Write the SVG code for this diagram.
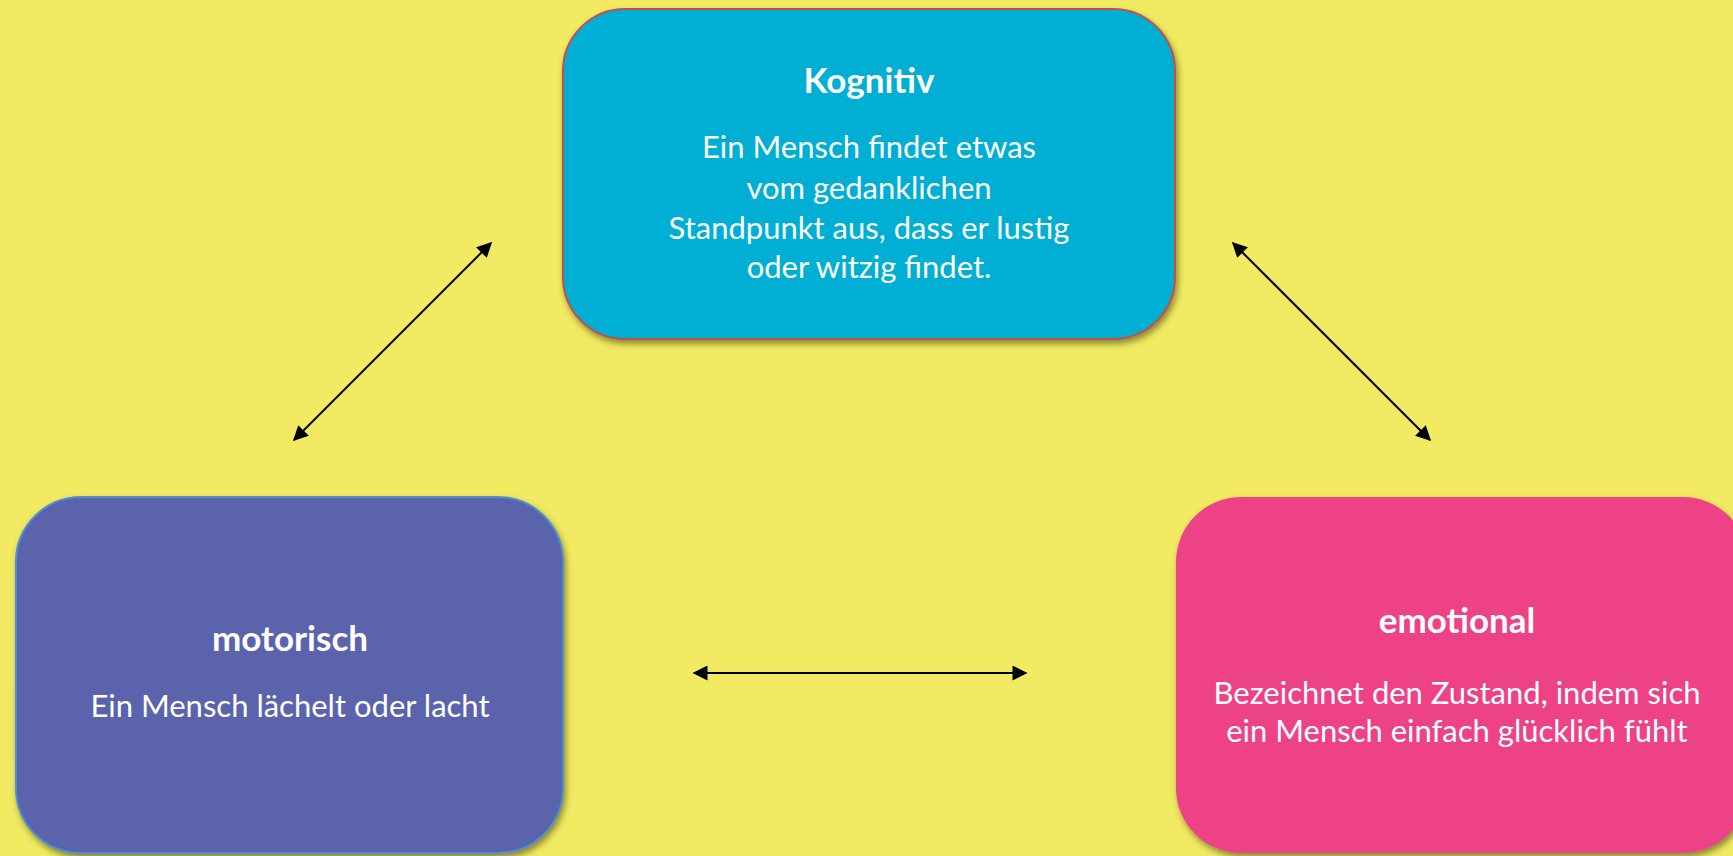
<svg xmlns="http://www.w3.org/2000/svg" width="1733" height="856" viewBox="0 0 1733 856">
<style>
.t{font-family:Lato,"Open Sans",sans-serif;font-weight:700;font-size:35px;fill:#fff;text-anchor:middle}
.b{font-family:Lato,"Open Sans",sans-serif;font-size:31px;fill:#fff;text-anchor:middle}
.c{stroke:#000;stroke-width:2;fill:none;marker-start:url(#ah);marker-end:url(#ah)}
</style>
<defs>
<marker id="ah" viewBox="0 0 10 10" refX="9" refY="5" markerWidth="9" markerHeight="7.5" orient="auto-start-reverse" markerUnits="strokeWidth">
<path d="M0,0 L10,5 L0,10 z" fill="#000"/>
</marker>
<filter id="sh" x="-10%" y="-10%" width="125%" height="125%">
<feDropShadow dx="2" dy="4" stdDeviation="3" flood-color="#4a4a10" flood-opacity="0.6"/>
</filter>
</defs>
<rect width="1733" height="856" fill="#F1EA62"/>
<g id="kognitiv">
<rect x="563" y="9" width="612" height="330" rx="62" fill="#02AFD3" stroke="#C0504D" stroke-width="2" filter="url(#sh)"/>
<text class="t" x="869" y="93">Kognitiv</text>
<text class="b" x="869" y="158">Ein Mensch findet etwas</text>
<text class="b" x="869" y="199">vom gedanklichen</text>
<text class="b" x="869" y="239">Standpunkt aus, dass er lustig</text>
<text class="b" x="869" y="278">oder witzig findet.</text>
</g>
<g id="motorisch">
<rect x="16" y="497" width="547" height="356" rx="65" fill="#5B63AD" stroke="#4F8FCB" stroke-width="2" filter="url(#sh)"/>
<text class="t" x="290" y="651">motorisch</text>
<text class="b" x="290" y="717">Ein Mensch lächelt oder lacht</text>
</g>
<g id="emotional">
<rect x="1176" y="497" width="572" height="356" rx="65" fill="#EE4386" filter="url(#sh)"/>
<text class="t" x="1457" y="633">emotional</text>
<text class="b" x="1457" y="704">Bezeichnet den Zustand, indem sich</text>
<text class="b" x="1457" y="742">ein Mensch einfach glücklich fühlt</text>
</g>
<g id="connectors">
<line class="c" x1="294" y1="440" x2="491" y2="243"/>
<line class="c" x1="1233" y1="243" x2="1430" y2="440"/>
<line class="c" x1="694" y1="673" x2="1026" y2="673"/>
</g>
</svg>
